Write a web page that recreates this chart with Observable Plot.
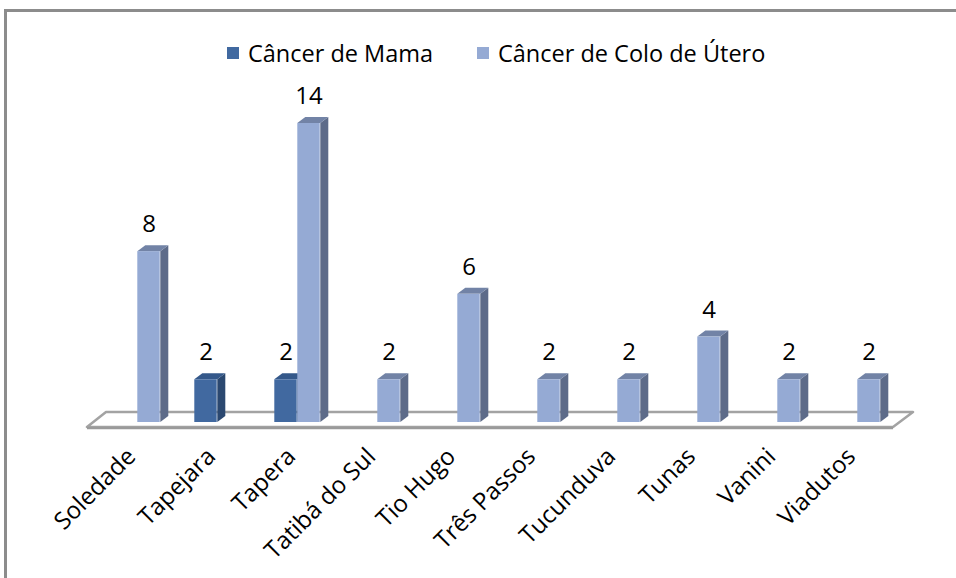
<!DOCTYPE html>
<html><head><meta charset="utf-8">
<script src="https://cdn.jsdelivr.net/npm/d3@7"></script>
<script src="https://cdn.jsdelivr.net/npm/@observablehq/plot@0.6"></script>
<style>
body{margin:0;background:#fff;}
#wrap{position:relative;width:956px;height:578px;overflow:hidden;font-family:"Open Sans",sans-serif;background:#fff;}
#frame{position:absolute;left:4px;top:9px;width:1000px;height:600px;border-left:3px solid #8c8c8c;border-top:3px solid #8c8c8c;}
#chart{position:absolute;left:0;top:0;}
.leg{position:absolute;top:38px;height:30px;font-size:23.5px;color:#000;display:flex;align-items:center;white-space:nowrap;}
.sw{width:12px;height:12px;margin-right:9px;}
</style></head><body>
<div id="wrap"><div id="frame"></div><div id="chart"></div></div>
<script>
const categories = ["Soledade","Tapejara","Tapera","Tatibá do Sul","Tio Hugo","Três Passos","Tucunduva","Tunas","Vanini","Viadutos"];
const seriesNames = ["Câncer de Mama","Câncer de Colo de Útero"];
const mama = [0,2,2,0,0,0,0,0,0,0];
const colo = [8,0,14,2,6,2,2,4,2,2];

const front = ["#4169a0","#95aad4"];
const topC = ["#34588a","#7283a6"];
const sideC = ["#2b4870","#5d6b89"];

const rows = [];
categories.forEach((c,i)=>{
  if (mama[i] > 0) rows.push({cat:c, s:0, value:mama[i]});
  if (colo[i] > 0) rows.push({cat:c, s:1, value:colo[i]});
});

const W = 956, H = 578, ML = 94, MR = 56, MT = 123, MB = 156;
const BARW = 23, DX = 8, DY = 6;

function floorMark(index, scales, values, dims) {
  const x0 = dims.marginLeft, x1 = dims.width - dims.marginRight, y0 = scales.y(0);
  const g = d3.create("svg:g");
  g.append("polygon")
    .attr("points", [[x0-7,y0+5],[x1-7,y0+5],[x1+13,y0-10],[x0+12,y0-10]].map(p=>p.join(",")).join(" "))
    .attr("fill","#fff").attr("stroke","#a3a3a3").attr("stroke-width",2.5).attr("stroke-linejoin","round");
  g.append("line").attr("x1",x0-7).attr("x2",x1-7).attr("y1",y0+6).attr("y2",y0+6).attr("stroke","#9a9a9a").attr("stroke-width",2.5);
  return g.node();
}

function facesMark(index, scales, values, dims) {
  const bw = (dims.width - dims.marginLeft - dims.marginRight) / categories.length;
  const g = d3.create("svg:g");
  for (const d of rows) {
    const cx = scales.x(d.cat) + bw/2;
    const left = d.s === 0 ? cx - BARW : cx;
    const right = left + BARW;
    const yt = scales.y(d.value), yb = scales.y(0);
    g.append("polygon").attr("fill", sideC[d.s])
      .attr("points", [[right,yt],[right+DX,yt-DY],[right+DX,yb-DY],[right,yb]].map(p=>p.join(",")).join(" "));
    g.append("polygon").attr("fill", topC[d.s])
      .attr("points", [[left,yt],[left+DX,yt-DY],[right+DX,yt-DY],[right,yt]].map(p=>p.join(",")).join(" "));
  }
  return g.node();
}

const bw0 = (W - ML - MR) / categories.length;
const half = bw0/2;

const hasAxisMark = typeof Plot.axisX === "function";
const axisOpts = {tickRotate: -45, tickSize: 0, tickPadding: 30, label: null};

const plot = Plot.plot({
  width: W, height: H,
  marginLeft: ML, marginRight: MR, marginTop: MT, marginBottom: MB,
  style: {fontFamily: "'Open Sans', sans-serif", fontSize: "24px", color: "#000", background: "transparent", overflow: "visible"},
  x: Object.assign({domain: categories, padding: 0}, hasAxisMark ? {axis: null} : axisOpts),
  y: {domain: [0, 14], axis: null},
  marks: [
    floorMark,
    facesMark,
    Plot.barY(rows.filter(d=>d.s===0), {x:"cat", y:"value", fill: front[0], insetLeft: half - BARW, insetRight: half}),
    Plot.barY(rows.filter(d=>d.s===1), {x:"cat", y:"value", fill: front[1], insetLeft: half, insetRight: half - BARW}),
    Plot.text(rows.filter(d=>d.s===0), {x:"cat", y:"value", text: d=>String(d.value), dx: -BARW/2, dy: -27, fontSize: 24, fill:"#000"}),
    Plot.text(rows.filter(d=>d.s===1), {x:"cat", y:"value", text: d=>String(d.value), dx: BARW/2, dy: -27, fontSize: 24, fill:"#000"}),
    hasAxisMark ? Plot.axisX(Object.assign({}, axisOpts, {dx: -6, fontSize: 24, fill: "#000"})) : null
  ]
});
document.getElementById("chart").appendChild(plot);

const legLeft = [227, 477];
seriesNames.forEach((n,i)=>{
  const item = document.createElement("div");
  item.className = "leg";
  item.style.left = legLeft[i] + "px";
  const sw = document.createElement("div");
  sw.className = "sw"; sw.style.background = front[i];
  const t = document.createElement("span"); t.textContent = n;
  item.appendChild(sw); item.appendChild(t);
  document.getElementById("wrap").appendChild(item);
});
</script>
</body></html>
